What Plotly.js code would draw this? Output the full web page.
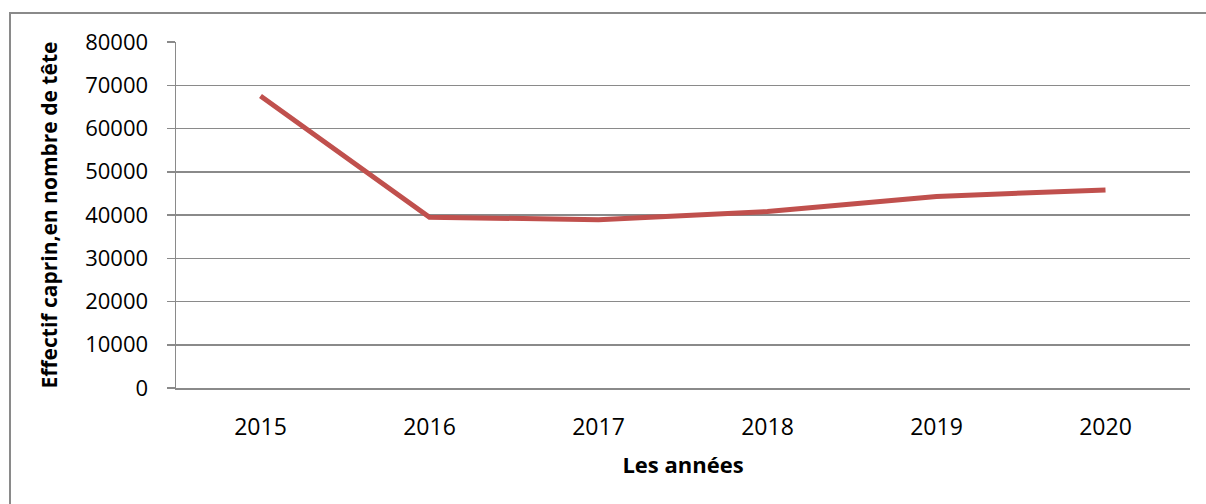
<!DOCTYPE html>
<html>
<head>
<meta charset="utf-8">
<script src="https://cdn.plot.ly/plotly-3.0.1.min.js"></script>
<style>
  html, body { margin: 0; padding: 0; background: #fff; }
  #wrap { position: relative; width: 1206px; height: 504px; overflow: hidden; }
  #frame { position: absolute; left: 9px; top: 12px; width: 1300px; height: 600px;
           border-left: 2px solid #8a8a8a; border-top: 2px solid #8a8a8a; pointer-events: none; }
  #chart { position: absolute; left: 0; top: 0; width: 1206px; height: 504px; }
</style>
</head>
<body>
<div id="wrap">
  <div id="chart"></div>
  <div id="frame"></div>
</div>
<script>
const years = ['2015', '2016', '2017', '2018', '2019', '2020'];
const effectifCaprin = [67500, 39500, 38900, 40800, 44300, 45800];
const yTickValues = [0, 10000, 20000, 30000, 40000, 50000, 60000, 70000, 80000];
const xTitle = 'Les années';
const yTitle = 'Effectif caprin,en nombre de tête';

const trace = {
  x: years,
  y: effectifCaprin,
  type: 'scatter',
  mode: 'lines',
  line: { color: '#C0504D', width: 5 },
  hoverinfo: 'x+y'
};

const layout = {
  width: 1206,
  height: 504,
  margin: { l: 176, r: 16, t: 42, b: 116 },
  paper_bgcolor: 'rgba(0,0,0,0)',
  plot_bgcolor: 'rgba(0,0,0,0)',
  showlegend: false,
  font: { family: 'Open Sans, sans-serif', color: '#000' },
  xaxis: {
    type: 'category',
    range: [-0.5, 5.5],
    showline: true,
    linecolor: '#8a8a8a',
    linewidth: 1.5,
    showgrid: false,
    zeroline: false,
    ticks: '',
    ticklabelstandoff: 18,
    tickfont: { size: 23, family: 'Open Sans, sans-serif', color: '#000' },
    title: { text: xTitle, font: { size: 22, family: 'Open Sans, sans-serif', weight: 'bold', color: '#000' }, standoff: 16 },
    automargin: true,
    fixedrange: true
  },
  yaxis: {
    range: [0, 80000],
    tickvals: yTickValues,
    ticktext: yTickValues.map(String),
    showline: true,
    linecolor: '#8a8a8a',
    linewidth: 1.5,
    showgrid: true,
    gridcolor: '#8a8a8a',
    gridwidth: 1.5,
    zeroline: false,
    ticks: 'outside',
    ticklen: 8,
    tickwidth: 1.5,
    tickcolor: '#8a8a8a',
    ticklabelstandoff: 14,
    tickfont: { size: 22, family: 'Open Sans, sans-serif', color: '#000' },
    title: { text: yTitle, font: { size: 21, family: 'Open Sans, sans-serif', weight: 'bold', color: '#000' }, standoff: 22 },
    automargin: true,
    fixedrange: true
  }
};

Plotly.newPlot('chart', [trace], layout, { displayModeBar: false, staticPlot: true });
</script>
</body>
</html>
